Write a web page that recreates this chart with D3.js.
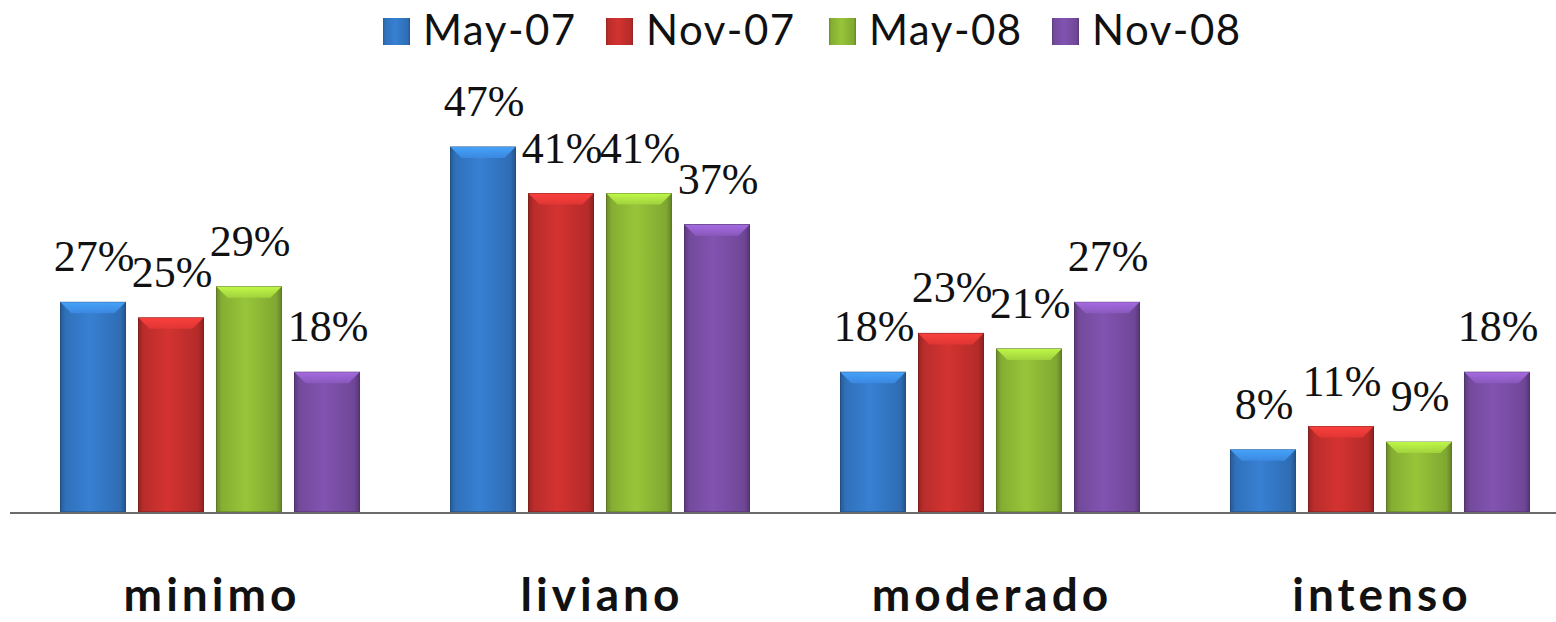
<!DOCTYPE html>
<html>
<head>
<meta charset="utf-8">
<script src="https://cdn.jsdelivr.net/npm/d3@7"></script>
<style>
  body { margin: 0; background: #fff; }
  svg { display: block; }
</style>
</head>
<body>
<svg id="chart" width="1556" height="622"></svg>
<script>
// data
var categories = ["minimo", "liviano", "moderado", "intenso"];
var series = ["May-07", "Nov-07", "May-08", "Nov-08"];
var may07 = [27, 47, 18, 8];
var nov07 = [25, 41, 23, 11];
var may08 = [29, 41, 21, 9];
var nov08 = [18, 37, 27, 18];
var colors = ["#3479c8", "#c8302e", "#8fbb36", "#7b4fa8"];

var values = [may07, nov07, may08, nov08];

var svg = d3.select("#chart"),
  width = +svg.attr("width"),
  height = +svg.attr("height");

var baseY = 512;

var x0 = d3.scaleBand()
    .domain(categories)
    .range([15, 1575])
    .paddingInner(0.2333)
    .paddingOuter(0.1167);

var x1 = d3.scaleBand()
    .domain(series)
    .range([0, x0.bandwidth()])
    .paddingInner(0.1667);

var y = d3.scaleLinear()
    .domain([0, 47])
    .range([baseY, 147]);

// gradients for the bevelled bars
var defs = svg.append("defs");
series.forEach(function(s, i) {
  var c = d3.color(colors[i]);
  var g = defs.append("linearGradient")
      .attr("id", "grad" + i)
      .attr("x1", "0%").attr("x2", "100%").attr("y1", "0%").attr("y2", "0%");
  g.append("stop").attr("offset", "0%").attr("stop-color", c.darker(0.8));
  g.append("stop").attr("offset", "8%").attr("stop-color", c.darker(0.2));
  g.append("stop").attr("offset", "45%").attr("stop-color", c.brighter(0.15));
  g.append("stop").attr("offset", "92%").attr("stop-color", c.darker(0.3));
  g.append("stop").attr("offset", "100%").attr("stop-color", c.darker(1));
  // top bevel fades downwards
  var b = defs.append("linearGradient")
      .attr("id", "bevel" + i)
      .attr("x1", "0%").attr("x2", "0%").attr("y1", "0%").attr("y2", "100%");
  b.append("stop").attr("offset", "0%").attr("stop-color", c.brighter(0.9));
  b.append("stop").attr("offset", "100%").attr("stop-color", c.brighter(0.35));
});

var rows = [];
categories.forEach(function(cat, ci) {
  series.forEach(function(s, si) {
    rows.push({cat: cat, series: s, si: si, value: values[si][ci]});
  });
});

var group = svg.append("g");

var bar = group.selectAll(".bar")
  .data(rows)
  .enter().append("g")
    .attr("class", "bar")
    .attr("transform", function(d) { return "translate(" + (x0(d.cat) + x1(d.series)) + ",0)"; });

bar.append("rect")
    .attr("x", 0)
    .attr("y", function(d) { return y(d.value); })
    .attr("width", x1.bandwidth())
    .attr("height", function(d) { return baseY - y(d.value); })
    .style("fill", function(d) { return "url(#grad" + d.si + ")"; })
    .style("stroke", function(d) { return d3.color(colors[d.si]).darker(1.2); })
    .style("stroke-width", 1);

// top bevel
bar.append("path")
    .attr("d", function(d) {
      var w = x1.bandwidth(), t = y(d.value), b = 11;
      return "M0," + t + "L" + w + "," + t + "L" + (w - b) + "," + (t + b) + "L" + b + "," + (t + b) + "Z";
    })
    .style("fill", function(d) { return "url(#bevel" + d.si + ")"; })
    .style("opacity", 0.9);

bar.append("text")
    .attr("x", x1.bandwidth() / 2 + 1)
    .attr("y", function(d) { return y(d.value) - 31; })
    .attr("text-anchor", "middle")
    .style("font-family", "'Liberation Serif', serif")
    .style("font-size", "44px")
    .style("fill", "#111")
    .text(function(d) { return d.value + "%"; });

// baseline
svg.append("line")
    .attr("x1", 10).attr("x2", width)
    .attr("y1", baseY + 1).attr("y2", baseY + 1)
    .style("stroke", "#6b6b6b")
    .style("stroke-width", 2);

// category labels
svg.selectAll(".cat")
  .data(categories)
  .enter().append("text")
    .attr("class", "cat")
    .attr("x", function(d) { return x0(d) + x0.bandwidth() / 2 + 2; })
    .attr("y", 611)
    .attr("text-anchor", "middle")
    .style("font-family", "Lato, sans-serif")
    .style("font-weight", "bold")
    .style("font-size", "46px")
    .style("letter-spacing", "4px")
    .style("fill", "#111")
    .text(function(d) { return d; });

// legend
var legendX = d3.scalePoint()
    .domain(series)
    .range([383, 1052]);

var leg = svg.selectAll(".legend")
  .data(series)
  .enter().append("g")
    .attr("class", "legend")
    .attr("transform", function(d) { return "translate(" + legendX(d) + ",18)"; });

leg.append("rect")
    .attr("width", 27).attr("height", 27)
    .style("fill", function(d, i) { return "url(#grad" + i + ")"; });

leg.append("text")
    .attr("x", 40)
    .attr("y", 27)
    .style("font-family", "Lato, sans-serif")
    .style("font-size", "42px")
    .style("letter-spacing", "1.5px")
    .style("fill", "#111")
    .text(function(d) { return d; });
</script>
</body>
</html>
